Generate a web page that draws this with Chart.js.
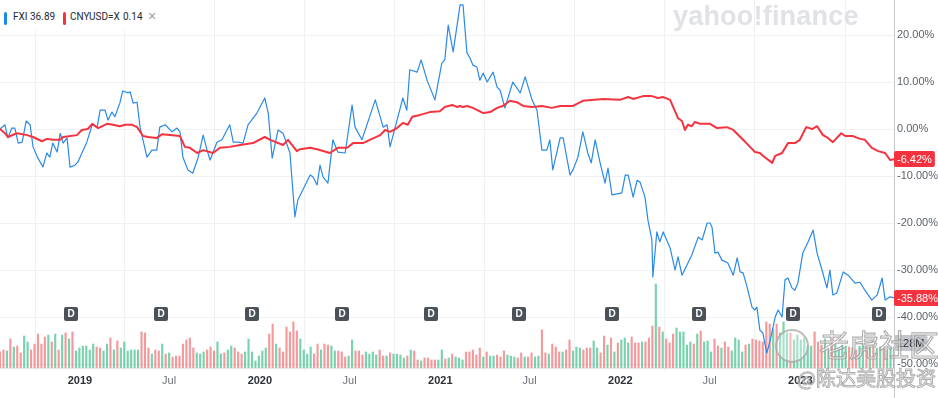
<!DOCTYPE html>
<html><head><meta charset="utf-8">
<script src="https://cdn.jsdelivr.net/npm/chart.js@4/dist/chart.umd.min.js"></script>
<style>
html,body{margin:0;padding:0;background:#fff;}
#wrap{position:relative;width:938px;height:398px;overflow:hidden;font-family:"Liberation Sans",Arial,sans-serif;}
#c{position:absolute;left:0;top:0;}
.lg{position:absolute;top:0;left:0;width:172px;height:30px;background:#fff;}
.lbar{position:absolute;top:12px;width:3px;height:13px;border-radius:2px;}
.ltxt{position:absolute;top:11px;font:10px Roboto,"Liberation Sans",sans-serif;color:#232a31;white-space:pre;line-height:12px;}
.lx{position:absolute;top:9px;left:148px;font-size:14px;color:#959ba1;line-height:14px;}
.wm{position:absolute;white-space:nowrap;pointer-events:none;}
#yf{left:673px;top:1px;font:bold 27px "Liberation Sans",Arial,sans-serif;color:#e0e2e6;letter-spacing:0.2px;}
#tg{left:819px;top:326px;font:30px "Noto Sans CJK SC",sans-serif;color:rgba(255,255,255,0.55);-webkit-text-stroke:1.2px rgba(150,150,150,0.75);line-height:34px;}
#tl{left:775px;top:329px;width:30px;height:30px;border-radius:50%;border:2px solid rgba(160,160,160,0.7);background:rgba(255,255,255,0.35);}
#au{left:797px;top:364px;font:20px "Noto Sans CJK SC",sans-serif;color:rgba(255,255,255,0.55);-webkit-text-stroke:1px rgba(150,150,150,0.75);line-height:28px;}
</style></head>
<body><div id="wrap">
<canvas id="c" width="938" height="398"></canvas>
<div class="lg">
  <span class="lbar" style="left:4px;background:#1e88e5"></span>
  <span class="ltxt" id="l1n" style="left:13px"></span><span class="ltxt" id="l1v" style="left:30px"></span>
  <span class="lbar" style="left:63px;background:#f5333f"></span>
  <span class="ltxt" id="l2n" style="left:70px"></span><span class="ltxt" id="l2v" style="left:123px"></span>
  <span class="lx">×</span>
</div>
<div class="wm" id="yf">yahoo!finance</div>
<div class="wm" id="tl"></div>
<div class="wm" id="tg">老虎社区</div>
<div class="wm" id="au">@陈达美股投资</div>
</div>
<script>
// ---------- data ----------
const startDate = '2018-07-23';           // day 0 of the x axis (weekly series)
const fxiName = 'FXI', fxiLast = '36.89';
const cnyName = 'CNYUSD=X', cnyLast = '0.14';

const tickDates  = ['2019-01-01','2019-07-01','2020-01-01','2020-07-01','2021-01-01','2021-07-01','2022-01-01','2022-07-01','2023-01-01'];
const tickLabels = ['2019','Jul','2020','Jul','2021','Jul','2022','Jul','2023'];
const yTicks = [-50,-40,-30,-20,-10,0,10,20];

// FXI % change, days since startDate
const fxiDay = [0,10,16,24,30,37,45,53,61,67,
 77,87,95,101,107,116,122,128,136,142,
 152,158,176,187,197,203,213,219,227,233,
 243,249,260,264,270,278,284,298,308,318,
 324,335,349,359,365,371,381,391,402,412,
 420,426,440,450,466,473,483,493,503,521,
 537,544,552,564,574,588,598,604,629,635,
 643,649,655,665,675,685,700,714,720,734,
 761,777,785,791,817,825,831,846,854,866,
 882,896,902,909,919,933,939,947,953,959,
 967,973,980,988,1000,1008,1014,1024,1040,1055,
 1065,1079,1089,1099,1109,1115,1121,1136,1142,1156,
 1162,1172,1182,1192,1199,1207,1217,1227,1233,1241,
 1261,1268,1274,1284,1292,1298,1308,1314,1322,1324,
 1332,1338,1345,1359,1369,1375,1383,1403,1416,1424,
 1434,1440,1444,1450,1456,1464,1476,1487,1495,1501,
 1507,1515,1525,1531,1535,1541,1547,1555,1562,1572,
 1578,1586,1592,1598,1606,1612,1618,1628,1639,1649,
 1657,1667,1677,1683,1689,1697,1710,1720,1734,1744,
 1754,1768,1779,1789,1795,1805,1813];
const fxiPct = [0,0.9,-1.9,0.2,0.2,-3.0,-2.8,1.7,0.9,-3.8,
 -6.2,-8.1,-5.1,-6.0,-3.0,-4.9,-0.9,-3.0,-1.9,-8.1,
 -7.7,-7.0,-2.8,0.9,0.4,4.0,4.0,1.9,3.6,2.6,
 5.5,8.1,7.7,7.9,5.5,5.7,0.4,-6.0,-4.5,-4.5,
 0.4,0.9,-0.6,0.2,-0.6,-6.0,-8.7,-9.4,-6.0,-1.3,
 -4.5,-6.6,-2.8,-2.3,0.9,-2.8,-2.8,-3.0,0.9,3.4,
 6.6,3.4,-6.2,-0.2,-0.9,-5.1,-18.7,-15.1,-9.8,-10.2,
 -11.9,-7.7,-10.2,-11.5,-2.3,-4.9,-5.1,5.1,0.4,-2.3,
 6.2,0.4,0.9,-3.8,6.6,4.0,12.6,12.1,14.7,10.4,
 6.2,14.0,14.7,22.1,16.4,26.4,26.4,16.2,15.1,13.6,
 13.2,10.4,11.9,10.0,12.1,8.9,8.3,4.5,10.0,7.7,
 11.1,6.2,4.0,-4.5,-4.5,-2.3,-8.7,-1.9,-1.9,-9.8,
 -8.7,-6.0,-0.6,-5.1,-7.2,-2.3,-7.2,-11.5,-8.3,-14.0,
 -13.6,-9.8,-9.8,-14.5,-10.9,-11.3,-14.5,-19.4,-23.6,-31.5,
 -21.9,-24.0,-21.9,-25.3,-30.0,-27.2,-31.1,-26.8,-23.0,-23.6,
 -20.0,-20.0,-20.9,-26.4,-26.2,-27.9,-28.5,-31.1,-27.4,-30.4,
 -30.6,-33.6,-37.9,-38.5,-37.9,-42.8,-43.4,-47.7,-44.9,-40.0,
 -38.5,-40.0,-32.1,-31.7,-33.8,-34.3,-32.8,-26.4,-24.0,-21.5,
 -26.4,-30.0,-33.8,-30.0,-35.3,-34.9,-30.4,-31.1,-32.8,-32.6,
 -34.3,-36.4,-35.3,-31.7,-36.4,-35.7,-35.88];

// CNYUSD=X % change
const cnyDay = [0,10,16,34,55,67,85,95,107,122,
 128,156,166,178,187,199,217,229,243,254,
 268,278,290,300,318,329,365,375,385,400,
 412,432,446,466,487,513,537,548,574,584,
 602,608,629,643,669,685,704,716,736,750,
 771,781,791,805,817,827,836,852,872,892,
 902,917,927,933,939,947,959,980,994,1008,
 1020,1034,1048,1061,1079,1099,1119,1136,1162,1182,
 1223,1257,1274,1284,1304,1322,1334,1345,1359,1365,
 1375,1383,1389,1395,1403,1409,1420,1440,1454,1474,
 1487,1507,1521,1531,1541,1547,1566,1572,1586,1598,
 1612,1622,1635,1647,1657,1669,1679,1689,1706,1714,
 1730,1744,1754,1768,1781,1795,1805,1813];
const cnyPct = [0,-0.9,-1.7,-0.9,-1.3,-1.7,-2.6,-2.1,-2.3,-2.3,
 -1.7,-1.3,-0.2,0.0,1.1,0.2,1.1,0.9,0.6,0.9,
 0.9,0.4,-1.5,-1.7,-1.9,-1.1,-1.5,-3.8,-4.0,-5.1,
 -4.5,-5.1,-4.0,-3.8,-3.4,-3.0,-1.7,-2.3,-3.4,-2.3,
 -4.7,-4.3,-4.0,-4.3,-5.1,-4.0,-4.0,-3.0,-3.0,-2.3,
 -1.3,-0.2,-0.6,0.2,1.3,0.9,2.6,3.0,3.6,3.8,
 4.7,5.1,4.7,4.9,4.7,4.9,4.5,3.4,3.6,4.5,
 4.9,6.0,5.7,4.9,4.7,4.9,4.5,4.9,4.9,6.0,
 6.4,6.2,6.8,6.4,7.0,7.0,6.6,6.8,6.2,4.7,
 2.3,1.7,-0.2,0.9,0.6,1.5,1.1,1.1,0.2,0.4,
 -0.2,-2.3,-3.8,-4.9,-5.1,-5.7,-7.2,-5.7,-5.1,-3.0,
 -3.0,-2.3,0.4,0.0,0.6,-1.3,-1.9,-2.8,-0.9,-1.5,
 -1.5,-2.1,-2.3,-4.0,-4.7,-5.1,-6.6,-6.42];

// FXI weekly volume (millions), one bar per week from startDate
const volume = [98,
 110,104,177,128,134,92,195,159,110,146,
 207,146,189,201,159,207,110,201,214,177,
 220,104,122,134,134,110,146,128,122,104,
 146,183,110,165,122,159,104,110,110,110,
 220,214,122,85,110,104,146,85,92,67,
 73,73,146,171,183,122,92,85,98,110,
 128,104,159,85,92,110,134,122,98,85,
 98,177,98,43,73,104,122,207,268,146,
 122,98,250,220,281,226,177,110,85,128,
 85,146,110,146,140,134,104,104,98,67,
 73,171,104,104,79,98,85,98,79,110,
 73,73,92,85,85,79,61,73,110,104,
 49,43,61,61,49,49,49,110,55,61,
 85,67,61,49,98,98,
 110,79,122,67,98,73,73,79,67,104,
 79,73,67,61,92,67,67,92,67,73,
 232,92,85,146,128,98,98,110,171,104,
 128,122,110,122,122,165,122,92,195,140,
 183,98,153,171,183,153,189,153,153,159,
 159,183,256,512,250,220,177,153,207,244,
 220,220,140,159,146,207,226,159,165,98,
 177,134,122,159,128,104,183,171,98,140,
 146,177,171,165,159,281,268,238,268,214,
 281,214,214,171,201,171,183,134,134,220,
 159,140,177,110,183,146,122,140,134,128,
 122,110,134,153,134,128,140,122,128,116,
 110,128,128];
// week direction: g = up week, r = down week
const volDir = ('r' +
 'rgrgrrggrr'+'rrrgrgrgrg'+'rggggggrrg'+'grgrgggggg'+'rrrgrrgrgr'+'rrrrrrgggr'+'rrggrggrrr'+
 'gggggggrrg'+'rrrrrrgggg'+'rrgrrggrrr'+'ggrrrggggr'+'rgrggggrgr'+'rgrrrrggrg'+'rgggrr'+
 'rrrgrggrrr'+'gggrrgrrgg'+'rrgrrrgrrg'+'ggrrrggrrg'+'rgrgggrrrg'+'rrrgrgrrrg'+'ggggrgrggg'+
 'rrgrrggggr'+'grrrrrrgrg'+'ggrggggggr'+'rrggrggggr'+'rrggrgrggr'+'ggr').split('');

// dividend dates (days since startDate)
const divDays = [144,327,511,693,875,1053,1242,1417,1608,1783];

// ---------- build ----------
const DAY = 86400000;
const toDay = s => Math.round((Date.parse(s) - Date.parse(startDate)) / DAY);
const tickDays = tickDates.map(toDay);
const FONT = '"Liberation Sans", Arial, sans-serif';
Chart.defaults.font.family = FONT;

document.getElementById('l1n').textContent = fxiName;
document.getElementById('l1v').textContent = fxiLast;
document.getElementById('l2n').textContent = cnyName;
document.getElementById('l2v').textContent = cnyLast;

function rr(ctx, x, y, w, h, r) {
  ctx.beginPath();
  ctx.moveTo(x + r, y); ctx.lineTo(x + w - r, y); ctx.quadraticCurveTo(x + w, y, x + w, y + r);
  ctx.lineTo(x + w, y + h - r); ctx.quadraticCurveTo(x + w, y + h, x + w - r, y + h);
  ctx.lineTo(x + r, y + h); ctx.quadraticCurveTo(x, y + h, x, y + h - r);
  ctx.lineTo(x, y + r); ctx.quadraticCurveTo(x, y, x + r, y); ctx.closePath();
}

const overlay = {
  id: 'overlay',
  afterDatasetsDraw(chart) {
    const { ctx, chartArea: a, scales: { x } } = chart;
    ctx.save();
    divDays.forEach(d => {
      const px = Math.round(x.getPixelForValue(d));
      const cy = a.bottom - 54;
      ctx.fillStyle = '#4b5158';
      rr(ctx, px - 7, cy - 7, 14, 14, 2); ctx.fill();
      ctx.fillStyle = '#fff'; ctx.font = 'bold 10px ' + FONT;
      ctx.textAlign = 'center'; ctx.textBaseline = 'middle';
      ctx.fillText('D', px, cy + 0.5);
    });
    ctx.restore();
  },
  afterDraw(chart) {
    const { ctx, chartArea: a, scales: { y, y2 } } = chart;
    ctx.save();
    ctx.strokeStyle = '#c4c7cb'; ctx.lineWidth = 1;
    ctx.beginPath(); ctx.moveTo(a.right + 0.5, 0); ctx.lineTo(a.right + 0.5, chart.height); ctx.stroke();
    ctx.font = '11px ' + FONT; ctx.textBaseline = 'middle'; ctx.textAlign = 'left';
    const tag = (val, text, bg, fg) => {
      const cy = Math.round(val);
      const w = ctx.measureText(text).width + 6;
      ctx.fillStyle = bg; rr(ctx, a.right, cy - 8, w, 16, 2); ctx.fill();
      ctx.fillStyle = fg; ctx.fillText(text, a.right + 3, cy + 0.5);
    };
    const lastVol = volume[volume.length - 1];
    tag(y2.getPixelForValue(lastVol) - 4, lastVol + 'M', '#c3c7cc', '#232a31');
    tag(y.getPixelForValue(cnyPct[cnyPct.length - 1]), cnyPct[cnyPct.length - 1].toFixed(2) + '%', '#f5333f', '#fff');
    tag(y.getPixelForValue(fxiPct[fxiPct.length - 1]), fxiPct[fxiPct.length - 1].toFixed(2) + '%', '#f5333f', '#fff');
    ctx.restore();
  }
};

new Chart(document.getElementById('c'), {
  type: 'line',
  data: {
    datasets: [
      { label: cnyName, data: cnyDay.map((d, i) => ({ x: d, y: cnyPct[i] })), borderColor: '#f5333f', borderWidth: 2,
        pointRadius: 0, tension: 0, yAxisID: 'y', order: 1, borderJoinStyle: 'round' },
      { label: fxiName, data: fxiDay.map((d, i) => ({ x: d, y: fxiPct[i] })), borderColor: '#2a8ae6', borderWidth: 1.2,
        pointRadius: 0, tension: 0, yAxisID: 'y', order: 2, borderJoinStyle: 'round' },
      { type: 'bar', label: 'Volume', data: volume.map((v, i) => ({ x: i * 7, y: v })),
        backgroundColor: volDir.map(c => c === 'g' ? 'rgba(31,180,120,0.6)' : 'rgba(235,70,75,0.55)'),
        barThickness: 1.5, yAxisID: 'y2', order: 3 }
    ]
  },
  options: {
    responsive: false, animation: false, devicePixelRatio: 1,
    layout: { padding: 0 },
    plugins: { legend: { display: false }, tooltip: { enabled: false } },
    scales: {
      x: {
        type: 'linear', min: 0, max: 1813, offset: false,
        afterBuildTicks: s => { s.ticks = tickDays.map(v => ({ value: v })); },
        afterFit: s => { s.height = 30; s.paddingLeft = 0; s.paddingRight = 0; },
        grid: { color: '#f0f1f2', tickLength: 3, drawTicks: true },
        border: { color: '#e3e5e8' },
        ticks: {
          autoSkip: false, maxRotation: 0, padding: 3,
          callback: (v, i) => tickLabels[i],
          font: c => ({ family: FONT, size: 11, weight: tickLabels[c.index] === 'Jul' ? 'normal' : 'bold' }),
          color: c => tickLabels[c.index] === 'Jul' ? '#6b7279' : '#2c3238'
        }
      },
      y: {
        position: 'right', min: -50.85, max: 27.45,
        afterBuildTicks: s => { s.ticks = yTicks.map(v => ({ value: v })); },
        afterFit: s => { s.width = 44; s.paddingTop = 0; s.paddingBottom = 0; },
        grid: { color: '#f0f1f2', drawTicks: false },
        border: { display: false },
        ticks: { padding: 3, color: '#5b636a', font: { size: 11 }, callback: v => v.toFixed(2) + '%' }
      },
      y2: { display: false, min: 0, max: 2245 }
    }
  },
  plugins: [overlay]
});
</script>
</body></html>
